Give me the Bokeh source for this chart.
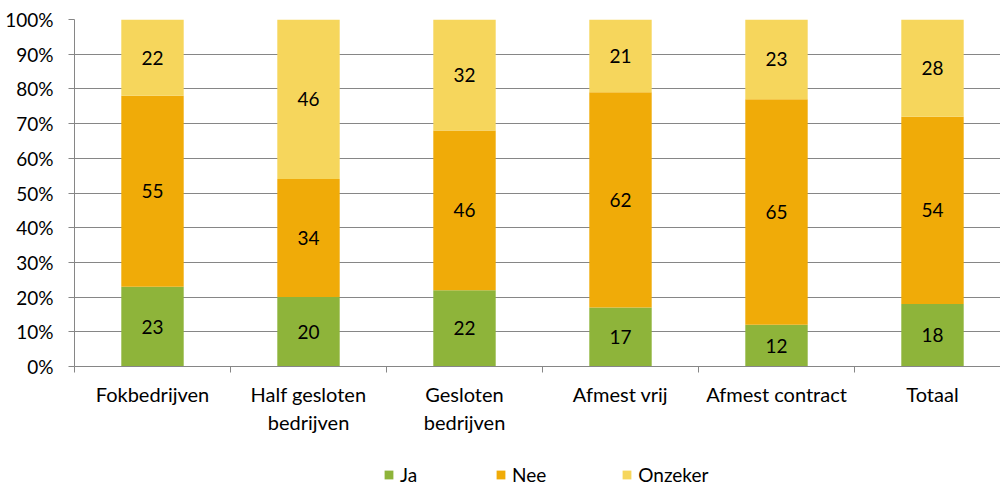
from bokeh.plotting import figure
from bokeh.layouts import column
from bokeh.models import ColumnDataSource, Range1d, FixedTicker, Legend, LegendItem
from bokeh.embed import file_html
from bokeh.resources import INLINE
from bokeh.core.properties import value

categories = ["Fokbedrijven", "Half gesloten\nbedrijven", "Gesloten\nbedrijven",
              "Afmest vrij", "Afmest contract", "Totaal"]
ja = [23, 20, 22, 17, 12, 18]
nee = [55, 34, 46, 62, 65, 54]
onzeker = [22, 46, 32, 21, 23, 28]
series = ["Ja", "Nee", "Onzeker"]
colors = ["#8EB43A", "#F0AB08", "#F6D65C"]
y_ticks = [0, 10, 20, 30, 40, 50, 60, 70, 80, 90, 100]

FONT = "Lato"
FS = "19px"
GRAY = "#868686"

n = len(categories)
centers = [i + 0.5 for i in range(n)]
bounds = [float(i) for i in range(n)]

src = ColumnDataSource(dict(x=centers, Ja=ja, Nee=nee, Onzeker=onzeker))

W, H = 1000, 440
LEFT, TOP, BOTTOM = 74, 19, 74
slot_px = 156
p = figure(width=W, height=H, output_backend="svg", toolbar_location=None,
           x_range=Range1d(0, (W - LEFT) / slot_px), y_range=Range1d(0, 100),
           min_border_left=LEFT, min_border_right=0, min_border_top=TOP,
           min_border_bottom=BOTTOM)
p.outline_line_color = None
p.background_fill_color = "white"

rs = p.vbar_stack(series, x="x", width=0.4, color=colors, line_color=None, source=src)

# data labels
lx, ly, lt = [], [], []
for i in range(n):
    base = 0
    for vals in (ja, nee, onzeker):
        v = vals[i]
        lx.append(centers[i]); ly.append(base + v / 2); lt.append(str(v))
        base += v
p.text(x=lx, y=ly, text=lt, text_align="center", text_baseline="middle",
       text_font=value(FONT), text_font_size=FS, text_color="#000000")

# axes
p.yaxis.ticker = FixedTicker(ticks=y_ticks)
p.yaxis.major_label_overrides = {t: f"{t}%" for t in y_ticks}
p.yaxis.axis_line_color = GRAY
p.yaxis.major_tick_line_color = GRAY
p.yaxis.major_tick_out = 6
p.yaxis.major_tick_in = 0
p.yaxis.minor_tick_line_color = None
p.yaxis.major_label_standoff = 15
p.yaxis.major_label_text_font = FONT
p.yaxis.major_label_text_font_size = FS
p.yaxis.major_label_text_color = "#000000"

p.xaxis.ticker = FixedTicker(ticks=centers, minor_ticks=bounds)
p.xaxis.major_label_overrides = {c: lab for c, lab in zip(centers, categories)}
p.xaxis.axis_line_color = GRAY
p.xaxis.major_tick_line_color = None
p.xaxis.minor_tick_line_color = GRAY
p.xaxis.minor_tick_out = 6
p.xaxis.minor_tick_in = 0
p.xaxis.major_label_standoff = 9
p.xaxis.major_label_text_font = FONT
p.xaxis.major_label_text_font_size = "20px"
p.xaxis.major_label_text_color = "#000000"

p.xgrid.grid_line_color = None
p.ygrid.ticker = FixedTicker(ticks=y_ticks)
p.ygrid.grid_line_color = GRAY
p.ygrid.grid_line_alpha = 1.0

# legend strip below the chart (proxy renderers sit outside the visible range)
q = figure(width=W, height=486 - H, output_backend="svg", toolbar_location=None,
           x_range=Range1d(0, 1), y_range=Range1d(0, 1),
           x_axis_type=None, y_axis_type=None, min_border=0)
q.outline_line_color = None
q.xgrid.grid_line_color = None
q.ygrid.grid_line_color = None
proxies = [q.vbar(x=[-5], top=[-5], bottom=[-6], width=0.1, color=c, line_color=None)
           for c in colors]
legend = Legend(items=[LegendItem(label=s, renderers=[r]) for s, r in zip(series, proxies)],
                orientation="horizontal", location=(309, 0),
                glyph_width=11, glyph_height=11, label_standoff=6, spacing=75,
                padding=0, margin=0, border_line_color=None, background_fill_alpha=0,
                label_text_font=FONT, label_text_font_size=FS, label_text_color="#000000")
q.add_layout(legend)

open("out.html", "w").write(file_html(column(p, q, spacing=0), INLINE))
